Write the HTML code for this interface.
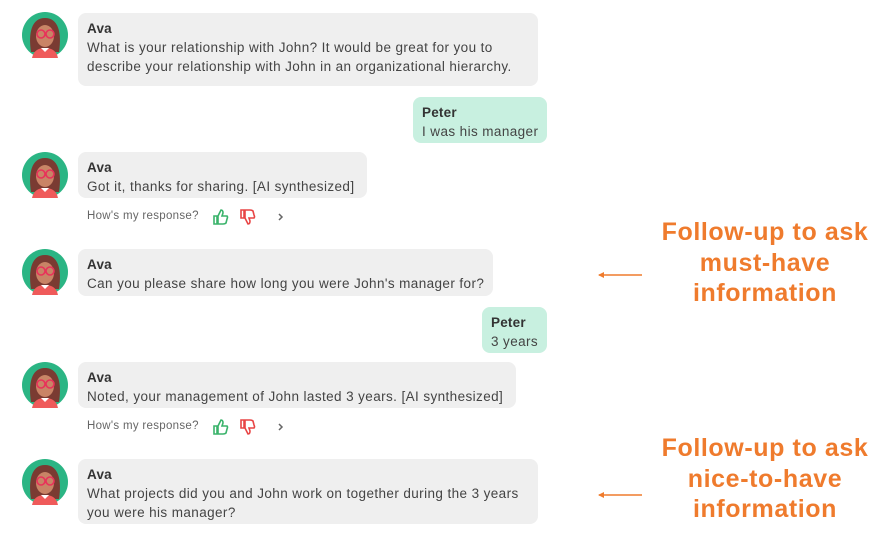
<!DOCTYPE html>
<html><head><meta charset="utf-8"><style>
body{margin:0;width:889px;height:544px;background:#fff;position:relative;overflow:hidden;font-family:"Liberation Sans",sans-serif;}
.b{position:absolute;background:#efefef;border-radius:8px;padding:6px 8px 0 9px;box-sizing:border-box;color:#444;font-size:13.5px;letter-spacing:0.4px;line-height:19px;white-space:nowrap;}
.b b{color:#333;display:block;letter-spacing:0.2px;}
.p{background:#c8f0e0;}
.av{position:absolute;left:22px;width:46px;height:46px;}
.r{position:absolute;left:87px;font-size:11.5px;color:#666;letter-spacing:0.3px;}
.o{position:absolute;left:640px;width:250px;text-align:center;color:#ef7b2d;font-size:25px;font-weight:bold;letter-spacing:0.6px;line-height:30.5px;}
</style></head><body>
<svg width="0" height="0" style="position:absolute"><defs>
<g id="a"><circle cx="23" cy="23" r="23" fill="#2bb584"/>
<path d="M9 40 C6 20 10 6 23 6 C36 6 40 20 37 40 Z" fill="#7a3b32"/>
<ellipse cx="23" cy="24" rx="9" ry="11" fill="#c98466"/>
<circle cx="19" cy="22" r="4" fill="none" stroke="#e8325a" stroke-width="1.6"/>
<circle cx="28" cy="22" r="4" fill="none" stroke="#e8325a" stroke-width="1.6"/>
<path d="M10 46 Q12 36 23 36 Q34 36 36 46 Z" fill="#ef5a5a"/>
<path d="M19 36 L23 40 L27 36" fill="#fff"/></g>
<g id="up"><path d="M2 8h3v8H2z M6 8 L9 2 Q11 2 11 5 L10 8 H15 Q16 9 15 11 L14 15 Q13 16 11 16 H6 Z" fill="none" stroke="#3ab36b" stroke-width="1.6"/></g>
<g id="dn"><path d="M2 2h3v8H2z M6 10 L9 16 Q11 16 11 13 L10 10 H15 Q16 9 15 7 L14 3 Q13 2 11 2 H6 Z" fill="none" stroke="#e84545" stroke-width="1.6"/></g>
</defs></svg>

<svg class="av" style="top:12px"><use href="#a"/></svg>
<div class="b" style="left:78px;top:13px;width:460px;height:73px"><b>Ava</b>What is your relationship with John? It would be great for you to<br>describe your relationship with John in an organizational hierarchy.</div>

<div class="b p" style="left:413px;top:97px;width:134px;height:46px"><b>Peter</b>I was his manager</div>

<svg class="av" style="top:152px"><use href="#a"/></svg>
<div class="b" style="left:78px;top:152px;width:289px;height:46px"><b>Ava</b>Got it, thanks for sharing. [AI synthesized]</div>
<div class="r" style="top:210px">How's my response?</div>
<svg style="position:absolute;left:212px;top:208px" width="80" height="18"><use href="#up"/><use href="#dn" x="27"/><path d="M67 6l3 3-3 3" fill="none" stroke="#666" stroke-width="1.5"/></svg>

<svg class="av" style="top:249px"><use href="#a"/></svg>
<div class="b" style="left:78px;top:249px;width:415px;height:47px"><b>Ava</b>Can you please share how long you were John's manager for?</div>

<div class="b p" style="left:482px;top:307px;width:65px;height:46px"><b>Peter</b>3 years</div>

<svg class="av" style="top:362px"><use href="#a"/></svg>
<div class="b" style="left:78px;top:362px;width:438px;height:46px"><b>Ava</b>Noted, your management of John lasted 3 years. [AI synthesized]</div>
<div class="r" style="top:420px">How's my response?</div>
<svg style="position:absolute;left:212px;top:418px" width="80" height="18"><use href="#up"/><use href="#dn" x="27"/><path d="M67 6l3 3-3 3" fill="none" stroke="#666" stroke-width="1.5"/></svg>

<svg class="av" style="top:459px"><use href="#a"/></svg>
<div class="b" style="left:78px;top:459px;width:460px;height:65px"><b>Ava</b>What projects did you and John work on together during the 3 years<br>you were his manager?</div>

<div class="o" style="top:217px">Follow-up to ask<br>must-have<br>information</div>
<div class="o" style="top:433px">Follow-up to ask<br>nice-to-have<br>information</div>
<svg style="position:absolute;left:595px;top:268px" width="50" height="14"><path d="M4 7H47" stroke="#ef7b2d" stroke-width="1.5"/><path d="M3 7l6-3v6z" fill="#ef7b2d"/></svg>
<svg style="position:absolute;left:595px;top:488px" width="50" height="14"><path d="M4 7H47" stroke="#ef7b2d" stroke-width="1.5"/><path d="M3 7l6-3v6z" fill="#ef7b2d"/></svg>
</body></html>
